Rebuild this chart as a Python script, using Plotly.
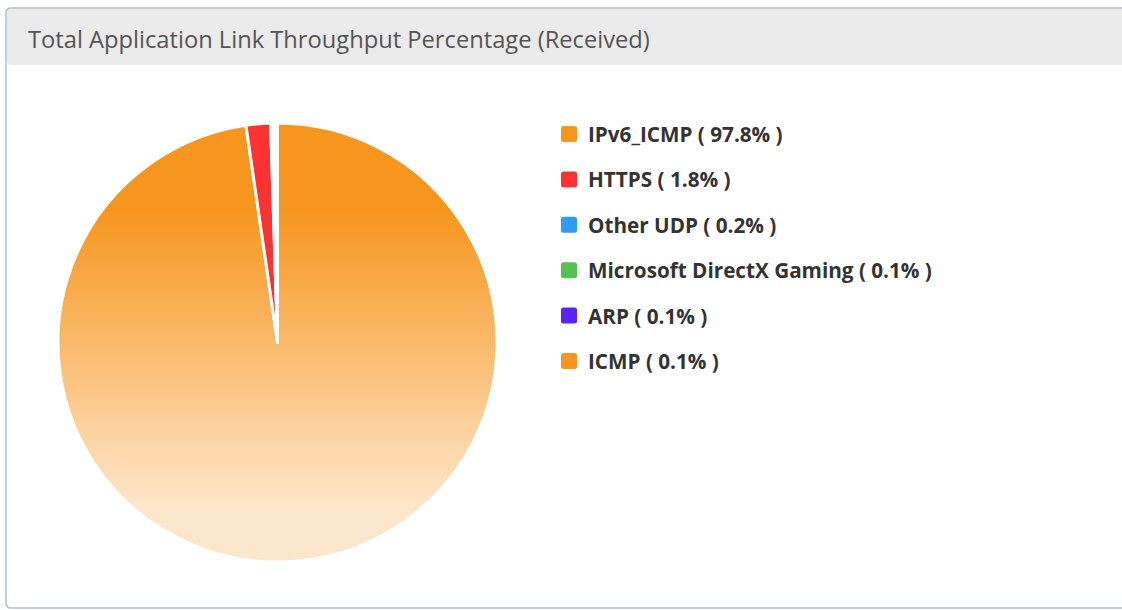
import base64
import plotly.graph_objects as go

# ---- data ----
labels = ["IPv6_ICMP", "HTTPS", "Other UDP", "Microsoft DirectX Gaming", "ARP", "ICMP"]
percents = [97.8, 1.8, 0.2, 0.1, 0.1, 0.1]
colors = ["#F7961E", "#FA3232", "#2F9BF5", "#55C150", "#5B21F5", "#F7961E"]
title_text = "Total Application Link Throughput Percentage (Received)"

W, H = 1122, 610


def px(x):
    return x / W


def py(y):
    return 1 - y / H


# pie box (pixels)
PL, PR, PT, PB = 58, 497, 123, 562

slice_colors = ["rgba(0,0,0,0)"] + colors[1:]  # big slice shows gradient image beneath

fig = go.Figure(
    go.Pie(
        labels=labels,
        values=percents,
        sort=False,
        direction="clockwise",
        rotation=0,
        marker=dict(colors=slice_colors, line=dict(color="white", width=3)),
        textinfo="none",
        hoverinfo="label+percent",
        domain=dict(x=[px(PL), px(PR)], y=[py(PB), py(PT)]),
        showlegend=False,
    )
)

svg = (
    '<svg xmlns="http://www.w3.org/2000/svg" viewBox="0 0 100 100" preserveAspectRatio="none">'
    '<defs><linearGradient id="g" x1="0" y1="0" x2="0" y2="1">'
    '<stop offset="0.2" stop-color="#F7961E"/>'
    '<stop offset="0.88" stop-color="#FDE7CC"/>'
    "</linearGradient></defs>"
    '<circle cx="50" cy="50" r="50" fill="url(#g)"/></svg>'
)
src = "data:image/svg+xml;base64," + base64.b64encode(svg.encode()).decode()

images = [
    dict(
        source=src,
        xref="paper",
        yref="paper",
        x=px(PL),
        y=py(PT),
        sizex=(PR - PL) / W,
        sizey=(PB - PT) / H,
        xanchor="left",
        yanchor="top",
        sizing="stretch",
        layer="below",
    )
]


def rrect(x0, y0, x1, y1, r):
    X0, X1 = px(x0), px(x1)
    Y0, Y1 = py(y0), py(y1)
    rx, ry = r / W, r / H
    return (
        f"M{X0 + rx},{Y0} L{X1 - rx},{Y0} Q{X1},{Y0} {X1},{Y0 - ry} "
        f"L{X1},{Y1 + ry} Q{X1},{Y1} {X1 - rx},{Y1} L{X0 + rx},{Y1} "
        f"Q{X0},{Y1} {X0},{Y1 + ry} L{X0},{Y0 - ry} Q{X0},{Y0} {X0 + rx},{Y0} Z"
    )


shapes = [
    # header band
    dict(type="path", xref="paper", yref="paper", path=rrect(7, 9, 1130, 65, 4),
         fillcolor="#EBEBEB", line=dict(width=0), layer="below"),
    # panel border
    dict(type="path", xref="paper", yref="paper", path=rrect(6, 8, 1130, 608, 5),
         fillcolor="rgba(0,0,0,0)", line=dict(color="#B4BEC8", width=1.5), layer="below"),
]

annotations = [
    dict(text=title_text, xref="paper", yref="paper", x=px(26), y=py(39),
         xanchor="left", yanchor="middle", showarrow=False,
         font=dict(family="Open Sans", size=23.7, color="#555555"))
]

row0, step = 134, 45.4
for i, (lab, pct, col) in enumerate(zip(labels, percents, colors)):
    yc = row0 + i * step
    shapes.append(dict(type="path", xref="paper", yref="paper",
                       path=rrect(561, yc - 8, 577, yc + 8, 2.5),
                       fillcolor=col, line=dict(width=0)))
    annotations.append(dict(text=f"<b>{lab} ( {pct}% )</b>", xref="paper", yref="paper",
                            x=px(586), y=py(yc), xanchor="left", yanchor="middle",
                            showarrow=False,
                            font=dict(family="Open Sans", size=20.7, color="#333333")))

fig.update_layout(
    width=W,
    height=H,
    margin=dict(l=0, r=0, t=0, b=0),
    paper_bgcolor="white",
    plot_bgcolor="white",
    images=images,
    shapes=shapes,
    annotations=annotations,
)

fig.write_html(
    "out.html",
    config={"displayModeBar": False},
    post_script="document.body.style.margin='0';document.body.style.overflow='hidden';",
)
